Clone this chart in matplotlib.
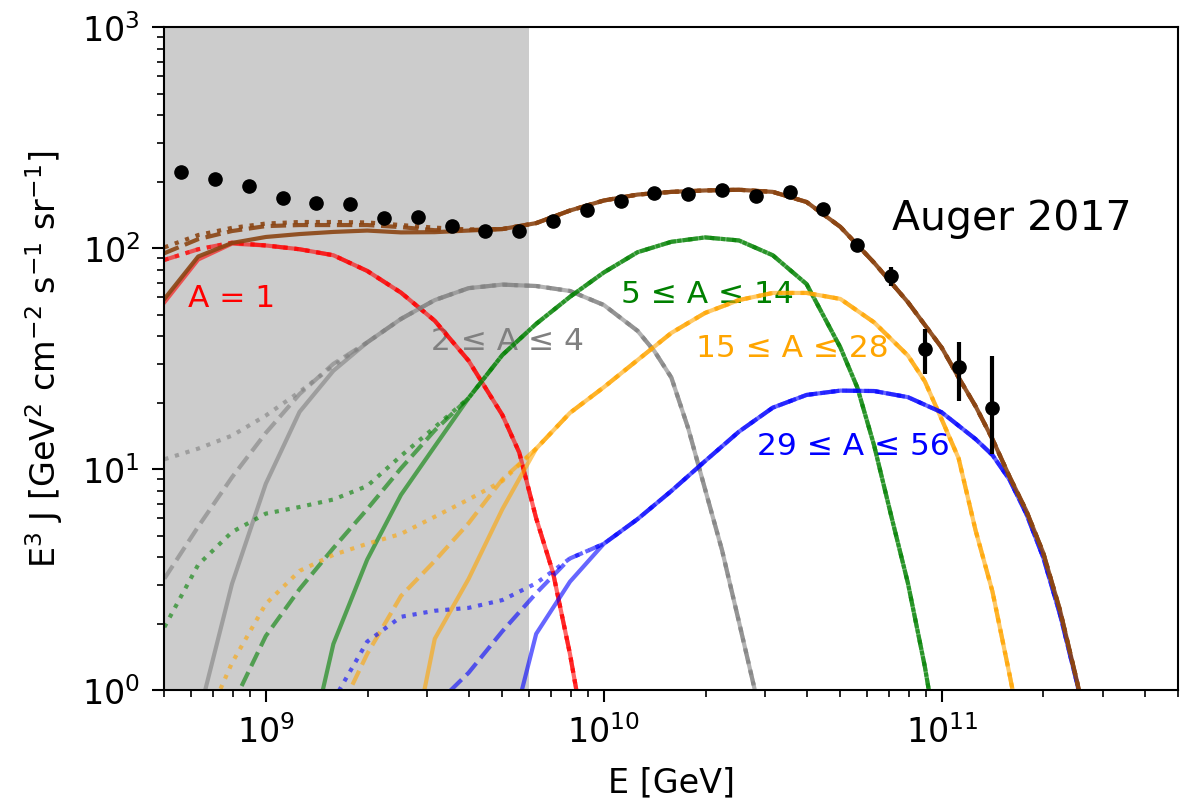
import numpy as np
import matplotlib
matplotlib.use("Agg")
import matplotlib.pyplot as plt

# Auger 2017 spectrum, log10(E/GeV) and E^3 J [GeV^2 cm^-2 s^-1 sr^-1]
auger_lgE = [8.75, 8.85, 8.95, 9.05, 9.15, 9.25, 9.35, 9.45, 9.55, 9.65,
             9.75, 9.85, 9.95, 10.05, 10.15, 10.25, 10.35, 10.45, 10.55,
             10.65, 10.75, 10.85, 10.95, 11.05, 11.15]
auger_flux = [221, 206, 191, 169, 160, 159, 137, 138, 126.5, 120,
              120, 133, 149, 164, 177, 176, 184, 173, 179,
              151, 103.5, 75, 35, 29, 19]
auger_err_lo = [1, 1, 1, 1, 1, 1, 1, 1, 1, 1,
                1, 1, 1.5, 1.5, 2, 2, 2.5, 3, 3.5,
                4, 4.5, 7.5, 8, 8.6, 7.3]
auger_err_hi = [1, 1, 1, 1, 1, 1, 1, 1, 1, 1,
                1, 1, 1.5, 1.5, 2, 2, 2.5, 3, 3.5,
                4, 4.5, 7, 8.3, 8.6, 13.4]

# model components: common high-energy part plus three low-energy variants
# (solid / dashed / dotted) that differ below the ankle
red_hi_lgE = [9.0, 9.1, 9.2, 9.3, 9.4, 9.5, 9.6, 9.7, 9.75, 9.8, 9.85, 9.9, 10.0]
red_hi = [103, 99, 93, 79, 63, 47, 31, 17.6, 11.9, 6.0, 3.4, 1.46, 0.2]
red_lo_lgE = [8.7, 8.8, 8.9]
red_lo_solid = [57, 89, 105]
red_lo_dashed = [88.6, 99, 106]
red_lo_dotted = [88.6, 99, 106]

gray_hi_lgE = [9.3, 9.4, 9.5, 9.6, 9.7, 9.8, 9.9, 10.0, 10.1, 10.15, 10.2,
               10.25, 10.3, 10.35, 10.4, 10.5]
gray_hi = [37.5, 47.9, 58.3, 66, 68.5, 67.5, 64.1, 55.4, 42.3, 34.2, 26,
           15.3, 8.1, 4.3, 2.04, 0.45]
gray_solid_lgE = [8.8, 8.9, 9.0, 9.1, 9.2]
gray_lo_solid = [0.75, 3.03, 8.6, 18.2, 27.9]
gray_lo_lgE = [8.7, 8.8, 8.9, 9.0, 9.1, 9.2]
gray_lo_dashed = [3.2, 5.5, 9.2, 14.6, 21.9, 30]
gray_lo_dotted = [11.1, 12.4, 14.2, 17.5, 22.4, 29.4]

green_hi_lgE = [9.6, 9.7, 9.8, 9.9, 10.0, 10.1, 10.2, 10.3, 10.4, 10.5,
                10.6, 10.7, 10.75, 10.8, 10.85, 10.9, 10.95, 11.0]
green_hi = [21, 32.9, 45.5, 60.3, 77.7, 96, 107, 112, 108.5, 93,
            68.9, 35.6, 23.5, 12.8, 6.2, 3.05, 1.28, 0.45]
green_solid_lgE = [9.1, 9.2, 9.3, 9.4, 9.5]
green_lo_solid = [0.35, 1.62, 3.9, 7.66, 12.7]
green_dashed_lgE = [8.9, 9.0, 9.1, 9.2, 9.3, 9.4, 9.5]
green_lo_dashed = [0.85, 1.76, 2.87, 4.4, 6.6, 10.1, 15.0]
green_dotted_lgE = [8.7, 8.8, 8.9, 9.0, 9.1, 9.2, 9.3, 9.4, 9.5]
green_lo_dotted = [1.93, 3.7, 5.2, 6.3, 6.75, 7.3, 8.4, 11.5, 15.5]

orange_hi_lgE = [9.8, 9.9, 10.0, 10.1, 10.2, 10.3, 10.4, 10.5, 10.6, 10.7,
                 10.8, 10.9, 10.95, 11.0, 11.05, 11.1, 11.15, 11.2, 11.3]
orange_hi = [12.4, 18, 23.5, 31.2, 41.4, 51, 58.3, 62.8, 62.8, 59,
             46.2, 32.7, 25, 16.8, 11.2, 5.3, 2.8, 1.19, 0.2]
orange_solid_lgE = [9.4, 9.5, 9.6, 9.7]
orange_lo_solid = [0.3, 1.71, 3.19, 6.6]
orange_dashed_lgE = [9.2, 9.3, 9.4, 9.5, 9.6, 9.7]
orange_lo_dashed = [0.7, 1.46, 2.67, 3.85, 5.7, 9.0]
orange_dotted_lgE = [8.8, 8.9, 9.0, 9.1, 9.2, 9.3, 9.4, 9.5, 9.6, 9.7]
orange_lo_dotted = [0.6, 1.33, 2.46, 3.47, 4.1, 4.6, 5.1, 6.1, 7.3, 8.85]

blue_hi_lgE = [10.0, 10.1, 10.2, 10.3, 10.4, 10.5, 10.6, 10.7, 10.8, 10.9,
               11.0, 11.1, 11.15, 11.2, 11.25, 11.3, 11.35, 11.4, 11.5]
blue_hi = [4.6, 5.95, 7.98, 10.9, 14.8, 19, 21.7, 22.7, 22.6, 21.2,
           18.1, 13.7, 11.6, 9.0, 6.3, 4.0, 2.2, 1.08, 0.2]
blue_solid_lgE = [9.7, 9.8, 9.9]
blue_lo_solid = [0.45, 1.8, 3.1]
blue_dashed_lgE = [9.5, 9.6, 9.7, 9.8, 9.9]
blue_lo_dashed = [0.85, 1.2, 1.85, 2.75, 3.95]
blue_dotted_lgE = [9.2, 9.3, 9.4, 9.5, 9.6, 9.7, 9.8, 9.9]
blue_lo_dotted = [0.9, 1.66, 2.15, 2.29, 2.36, 2.56, 3.05, 3.95]

total_hi_lgE = [9.7, 9.8, 9.9, 10.0, 10.1, 10.2, 10.3, 10.4, 10.5, 10.6,
                10.7, 10.8, 10.9, 11.0, 11.05, 11.1, 11.15, 11.2, 11.25,
                11.3, 11.35, 11.4, 11.5]
total_hi = [122.2, 130, 148.2, 164.5, 175, 180, 182.7, 184, 180, 162,
            125, 86, 57, 35.5, 26, 19.3, 13.7, 9.3, 6.5,
            4.2, 2.3, 1.1, 0.22]
total_lo_lgE = [8.7, 8.8, 8.9, 9.0, 9.1, 9.2, 9.3, 9.4, 9.5, 9.6]
total_lo_solid = [59, 91.8, 105.7, 112.5, 116, 118.6, 120.3, 118, 118.3, 120.3]
total_lo_dashed = [95, 110, 119.7, 126, 127.4, 127.4, 127.4, 124.7, 120.7, 121]
total_lo_dotted = [101, 114.8, 123.7, 129.4, 131.5, 131.5, 130.9, 127.4, 124, 121.7]

E_ankle = 6e9   # below this the fit is not used


def join(lo_x, lo_y, hi_x, hi_y):
    x = 10 ** np.array(lo_x + hi_x)
    return x, np.array(lo_y + hi_y)


comps = [
    ('red', 0.6, [(red_lo_lgE, red_lo_solid), (red_lo_lgE, red_lo_dashed),
                  (red_lo_lgE, red_lo_dotted)], red_hi_lgE, red_hi),
    ('gray', 0.6, [(gray_solid_lgE, gray_lo_solid), (gray_lo_lgE, gray_lo_dashed),
                   (gray_lo_lgE, gray_lo_dotted)], gray_hi_lgE, gray_hi),
    ('green', 0.6, [(green_solid_lgE, green_lo_solid), (green_dashed_lgE, green_lo_dashed),
                    (green_dotted_lgE, green_lo_dotted)], green_hi_lgE, green_hi),
    ('orange', 0.6, [(orange_solid_lgE, orange_lo_solid), (orange_dashed_lgE, orange_lo_dashed),
                     (orange_dotted_lgE, orange_lo_dotted)], orange_hi_lgE, orange_hi),
    ('blue', 0.6, [(blue_solid_lgE, blue_lo_solid), (blue_dashed_lgE, blue_lo_dashed),
                   (blue_dotted_lgE, blue_lo_dotted)], blue_hi_lgE, blue_hi),
    ('saddlebrown', 0.9, [(total_lo_lgE, total_lo_solid), (total_lo_lgE, total_lo_dashed),
                          (total_lo_lgE, total_lo_dotted)], total_hi_lgE, total_hi),
]
styles = ['-', '--', ':']

fig = plt.figure(figsize=(11.87, 8.04), dpi=100)
ax = fig.add_axes([0.1382, 0.1402, 0.8542, 0.8246])

ax.axvspan(1e8, E_ankle, color='gray', alpha=0.4, lw=0, zorder=1)

for color, alpha, lows, hx, hy in comps:
    for (lx, ly), ls in zip(lows, styles):
        x, y = join(lx, ly, hx, hy)
        ax.plot(x, y, color=color, ls=ls, lw=3, alpha=alpha, zorder=2)

ax.errorbar(10 ** np.array(auger_lgE), auger_flux,
            yerr=[auger_err_lo, auger_err_hi], fmt='o', color='k',
            ms=9.5, elinewidth=3, capsize=0, zorder=5)

lab_kw = dict(fontsize=22.5, va='baseline', ha='left', zorder=1.5)
ax.text(10 ** 8.77, 54.8, 'A = 1', color='red', **lab_kw)
ax.text(10 ** 9.49, 35.1, '2 ≤ A ≤ 4', color='gray', **lab_kw)
ax.text(10 ** 10.052, 57.2, '5 ≤ A ≤ 14', color='green', **lab_kw)
ax.text(10 ** 10.274, 32.6, '15 ≤ A ≤ 28', color='orange', **lab_kw)
ax.text(10 ** 10.454, 11.7, '29 ≤ A ≤ 56', color='blue', **lab_kw)
ax.text(10 ** 10.853, 122, 'Auger 2017', color='k', fontsize=29.5,
        va='baseline', ha='left')

ax.set_xscale('log')
ax.set_yscale('log')
ax.set_xlim(5e8, 5e11)
ax.set_ylim(1, 1e3)

ax.set_xlabel('E [GeV]', fontsize=24, labelpad=12)
ax.set_ylabel(r'E$^3$ J [GeV$^2$ cm$^{-2}$ s$^{-1}$ sr$^{-1}$]',
              fontsize=24, labelpad=12)

ax.tick_params(which='major', labelsize=24, length=8.3, width=1.5, pad=9)
ax.tick_params(which='minor', length=4.7, width=1.2)
for sp in ax.spines.values():
    sp.set_linewidth(1.5)

fig.savefig('out.png', dpi=100)
